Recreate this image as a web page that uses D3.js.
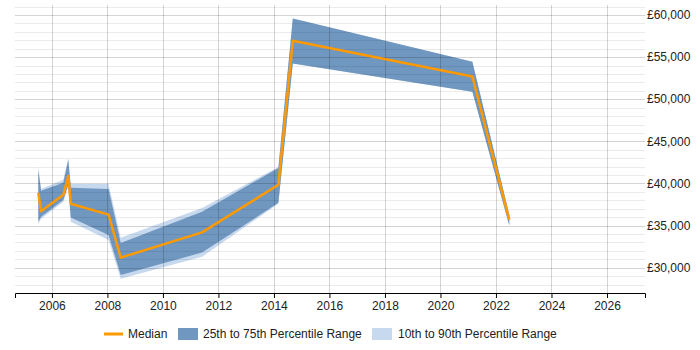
<!DOCTYPE html>
<html>
<head>
<meta charset="utf-8">
<script src="https://cdn.jsdelivr.net/npm/d3@7"></script>
<style>
  body { margin: 0; background: #fff; }
  text { font-family: "Liberation Sans", Arial, sans-serif; }
</style>
</head>
<body>
<div id="chart"></div>
<script>
// data (year as decimal)
var years  = [2005.51, 2005.61, 2006.41, 2006.59, 2006.68, 2008.04, 2008.48, 2011.41, 2014.16, 2014.68, 2021.15, 2022.48];
var median = [38900, 36700, 38650, 40900, 37600, 36300, 31200, 34200, 39850, 56950, 52700, 35700];
var p25    = [35450, 36050, 38050, 39850, 35950, 33900, 29150, 31800, 37700, 54250, 50900, 35000];
var p75    = [41600, 39150, 40100, 42800, 39500, 39350, 32950, 36650, 41850, 59600, 54450, 36300];
var p10    = [35200, 35800, 37800, 39600, 35450, 33300, 28700, 31300, 37600, 54250, 50900, 35000];
var p90    = [42000, 39350, 40450, 43050, 39950, 39950, 33550, 37100, 41950, 59600, 54450, 36300];
var yTicks = [30000, 35000, 40000, 45000, 50000, 55000, 60000];
var xTicks = [2006, 2008, 2010, 2012, 2014, 2016, 2018, 2020, 2022, 2024, 2026];

var width = 700, height = 350;
var pLeft = 15, pRight = 645, pTop = 6.6, pBottom = 293;

var x = d3.scaleLinear().domain([2004.67, 2027.37]).range([pLeft, pRight]);
var y = d3.scaleLinear().domain([27000, 61000]).range([pBottom, pTop]);

var svg = d3.select("#chart").append("svg")
    .attr("width", width)
    .attr("height", height);

var rows = years.map(function(yr, i) {
  return { t: yr, m: median[i], a: p25[i], b: p75[i], c: p10[i], d: p90[i] };
});

var outer = d3.area()
    .x(function(d) { return x(d.t); })
    .y0(function(d) { return y(d.c); })
    .y1(function(d) { return y(d.d); });

var inner = d3.area()
    .x(function(d) { return x(d.t); })
    .y0(function(d) { return y(d.a); })
    .y1(function(d) { return y(d.b); });

var line = d3.line()
    .x(function(d) { return x(d.t); })
    .y(function(d) { return y(d.m); });

svg.append("path").datum(rows).attr("d", outer).style("fill", "#c7d9ee");
svg.append("path").datum(rows).attr("d", inner).style("fill", "#7097c0");

// grid sits over the bands, see-through
svg.append("g").selectAll("line")
    .data(d3.range(28000, 61001, 1000))
  .enter().append("line")
    .attr("x1", pLeft).attr("x2", pRight)
    .attr("y1", function(d) { return Math.round(y(d)) + 0.5; })
    .attr("y2", function(d) { return Math.round(y(d)) + 0.5; })
    .style("stroke", function(d) { return d % 5000 == 0 ? "rgba(0,0,0,0.17)" : "rgba(0,0,0,0.08)"; })
    .style("stroke-width", 1);

svg.append("g").selectAll("line")
    .data(xTicks)
  .enter().append("line")
    .attr("x1", function(d) { return Math.round(x(d)) + 0.5; })
    .attr("x2", function(d) { return Math.round(x(d)) + 0.5; })
    .attr("y1", 5).attr("y2", pBottom)
    .style("stroke", "rgba(0,0,0,0.17)");

svg.append("path").datum(rows).attr("d", line)
    .style("fill", "none")
    .style("stroke", "#ff9900")
    .style("stroke-width", 2.5)
    .style("stroke-linejoin", "round");

// x axis
var xAxis = d3.axisBottom(x)
    .tickValues(xTicks)
    .tickFormat(d3.format("d"))
    .tickSizeOuter(0)
    .tickSize(5);

var gx = svg.append("g")
    .attr("transform", "translate(0," + pBottom + ")")
    .call(xAxis);
gx.select(".domain").style("stroke", "#000");
gx.selectAll("text")
    .style("font-size", "12px")
    .style("fill", "#222")
    .style("font-family", "'Liberation Sans', Arial, sans-serif");

// y labels on the right
svg.append("g").selectAll("text")
    .data(yTicks)
  .enter().append("text")
    .attr("x", 647)
    .attr("y", function(d) { return y(d); })
    .attr("dy", "0.35em")
    .style("font-size", "12px")
    .style("fill", "#222")
    .text(function(d) { return "£" + d3.format(",")(d); });

// legend
var lg = svg.append("g").style("font-size", "12px");
lg.append("line")
    .attr("x1", 104).attr("x2", 123).attr("y1", 334).attr("y2", 334)
    .style("stroke", "#ff9900").style("stroke-width", 3);
lg.append("text").attr("x", 128).attr("y", 338).style("fill", "#222").text("Median");
lg.append("rect").attr("x", 178).attr("y", 328).attr("width", 20).attr("height", 12).style("fill", "#7097c0");
lg.append("text").attr("x", 203).attr("y", 338).style("fill", "#222").text("25th to 75th Percentile Range");
lg.append("rect").attr("x", 372).attr("y", 328).attr("width", 20).attr("height", 12).style("fill", "#c7d9ee");
lg.append("text").attr("x", 398).attr("y", 338).style("fill", "#222").text("10th to 90th Percentile Range");
</script>
</body>
</html>
